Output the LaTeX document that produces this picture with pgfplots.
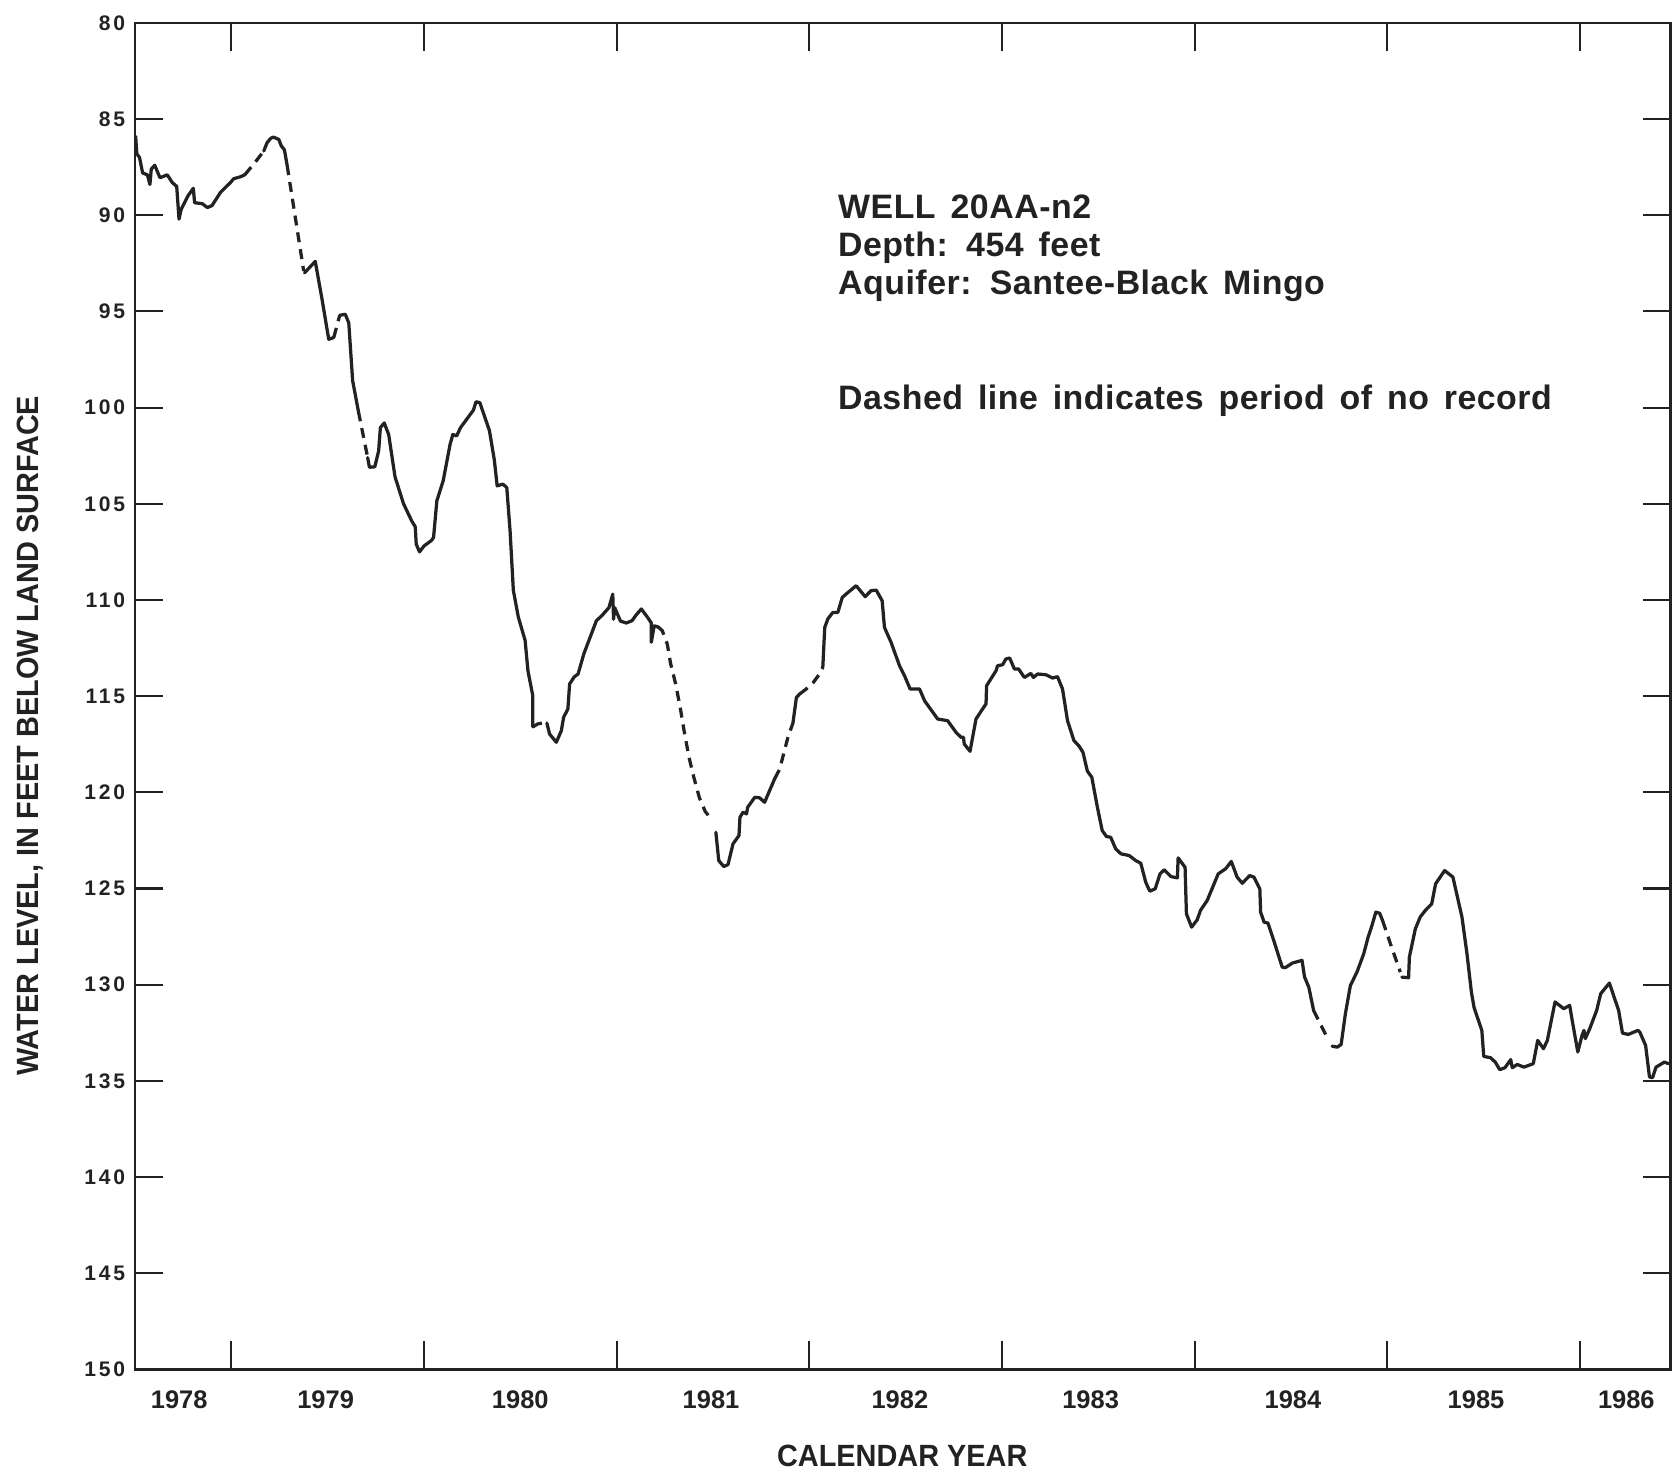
\documentclass[border=0pt]{standalone}
\usepackage{pgfplots}
\pgfplotsset{compat=1.18}
\usepackage{fontspec}
\setmainfont[FakeStretch=0.94]{Liberation Sans}
\newfontfamily\annfont[LetterSpace=1.5, WordSpace=1.5]{Liberation Sans}
\newfontfamily\ytfont[LetterSpace=13]{Liberation Sans}
\newfontfamily\xtfont{Liberation Sans}
\definecolor{ink}{HTML}{222222}
\begin{document}
\begin{tikzpicture}
\path[use as bounding box] (-27mm,-20.76mm) rectangle (307.67mm,274.08mm);
\begin{axis}[
  at={(0,0)}, anchor=south west,
  scale only axis, width=307.4mm, height=269.5mm,
  xmin=1978.5, xmax=1986.47, ymin=80, ymax=150, y dir=reverse,
  xtick={1979,1980,1981,1982,1983,1984,1985,1986}, xticklabels={},
  extra x ticks={1978.73,1979.49,1980.5,1981.49,1982.47,1983.46,1984.51,1985.46,1986.24},
  extra x tick labels={1978,1979,1980,1981,1982,1983,1984,1985,1986},
  extra x tick style={major tick length=0pt},
  ytick={80,85,90,95,100,105,110,115,120,125,130,135,140,145,150},
  yticklabels={80,85,90,95,100,105,110,115,120,125,130,135,140,145,150},
  tick align=inside, major tick length=5.6mm, minor tick num=0,
  axis line style={line width=0.54mm, draw=ink},
  every tick/.style={line width=0.42mm, draw=ink},
  xticklabel style={font=\xtfont\bfseries\fontsize{14.5pt}{16pt}\selectfont, text=ink, anchor=north, inner sep=0pt, yshift=-4.2mm},
  yticklabel style={font=\ytfont\bfseries\fontsize{12pt}{14pt}\selectfont, text=ink, anchor=east, inner sep=0pt, xshift=-1.9mm},
  clip=true,
]
\pgfplotsset{solidline/.style={ink, line width=0.65mm, line join=round, line cap=round},
             dashline/.style={ink, line width=0.65mm, dash pattern=on 2mm off 1.4mm}}
\addplot[solidline] coordinates {(1978.504,85.9) (1978.51,86.8) (1978.524,87.0) (1978.54,87.8) (1978.565,87.9) (1978.578,88.4) (1978.585,87.6) (1978.603,87.4) (1978.63,88.05) (1978.668,87.9) (1978.694,88.3) (1978.717,88.5) (1978.729,90.2) (1978.74,89.7) (1978.775,89.0) (1978.803,88.6) (1978.81,89.35) (1978.85,89.4) (1978.876,89.6) (1978.90,89.5) (1978.945,88.8) (1978.996,88.3) (1979.013,88.1) (1979.048,88.0) (1979.07,87.9)};
\addplot[dashline] coordinates {(1979.07,87.9) (1979.12,87.3) (1979.169,86.66)};
\addplot[solidline] coordinates {(1979.169,86.66) (1979.186,86.23) (1979.205,86.0) (1979.22,85.94) (1979.247,86.06) (1979.26,86.4) (1979.276,86.6) (1979.29,87.4)};
\addplot[dashline] coordinates {(1979.29,87.4) (1979.376,92.9)};
\addplot[solidline] coordinates {(1979.38,93.0) (1979.436,92.4) (1979.47,94.3) (1979.506,96.45) (1979.532,96.36)};
\addplot[dashline] coordinates {(1979.532,96.36) (1979.563,95.2)};
\addplot[solidline] coordinates {(1979.563,95.2) (1979.592,95.15) (1979.61,95.6) (1979.63,98.6) (1979.66,100.2)};
\addplot[dashline] coordinates {(1979.66,100.2) (1979.708,102.6)};
\addplot[solidline] coordinates {(1979.708,102.6) (1979.717,103.1) (1979.745,103.08) (1979.765,102.25) (1979.774,101.04) (1979.794,100.8) (1979.817,101.4) (1979.85,103.6) (1979.894,105.0) (1979.937,105.9) (1979.955,106.2) (1979.96,107.1) (1979.977,107.5) (1980.0,107.2) (1980.04,106.9) (1980.05,106.75) (1980.067,104.85) (1980.1,103.8) (1980.136,101.9) (1980.15,101.4) (1980.17,101.47) (1980.19,101.04) (1980.257,100.13) (1980.27,99.7) (1980.29,99.74) (1980.34,101.2) (1980.365,102.7) (1980.38,104.07) (1980.41,103.98) (1980.43,104.16) (1980.447,106.4) (1980.464,109.5) (1980.49,110.9) (1980.525,112.1) (1980.54,113.7) (1980.565,114.98) (1980.565,116.6)};
\addplot[dashline] coordinates {(1980.565,116.6) (1980.59,116.45) (1980.614,116.4) (1980.638,116.4)};
\addplot[solidline] coordinates {(1980.638,116.4) (1980.652,116.97) (1980.687,117.4) (1980.713,116.8) (1980.725,116.1) (1980.747,115.67) (1980.756,114.37) (1980.78,114.0) (1980.80,113.85) (1980.83,112.8) (1980.895,111.08) (1980.925,110.8) (1980.96,110.4) (1980.98,109.7) (1980.984,111.0) (1980.99,110.4) (1981.02,111.1) (1981.05,111.2) (1981.08,111.08) (1981.10,110.8) (1981.128,110.47) (1981.16,110.9) (1981.18,111.2) (1981.18,112.2) (1981.195,111.35) (1981.215,111.4)};
\addplot[dashline] coordinates {(1981.215,111.4) (1981.237,111.6) (1981.263,112.3) (1981.28,113.3) (1981.307,114.4) (1981.33,115.6) (1981.35,116.8) (1981.376,118.2) (1981.40,119.2) (1981.43,120.3) (1981.46,121.0) (1981.49,121.38)};
\addplot[solidline] coordinates {(1981.515,122.08) (1981.53,123.55) (1981.556,123.86) (1981.578,123.76) (1981.604,122.68) (1981.635,122.25) (1981.64,121.3) (1981.656,121.04) (1981.674,121.12) (1981.68,120.78) (1981.717,120.26) (1981.742,120.29) (1981.768,120.52) (1981.794,119.91) (1981.82,119.3)};
\addplot[dashline] coordinates {(1981.82,119.3) (1981.846,118.8) (1981.889,117.14) (1981.915,116.4)};
\addplot[solidline] coordinates {(1981.915,116.4) (1981.933,115.07) (1981.95,114.89)};
\addplot[dashline] coordinates {(1981.95,114.89) (1981.984,114.63) (1982.02,114.3) (1982.053,113.85) (1982.07,113.5)};
\addplot[solidline] coordinates {(1982.07,113.5) (1982.08,111.43) (1982.096,110.99) (1982.122,110.65) (1982.148,110.65) (1982.171,109.87) (1982.19,109.7) (1982.243,109.26) (1982.29,109.83) (1982.32,109.52) (1982.347,109.49) (1982.378,110.04) (1982.39,111.43) (1982.424,112.2) (1982.468,113.42) (1982.494,113.94) (1982.523,114.63) (1982.572,114.63) (1982.598,115.24) (1982.666,116.19) (1982.718,116.28) (1982.761,116.88) (1982.787,117.14) (1982.8,117.14) (1982.804,117.49) (1982.834,117.87) (1982.865,116.19) (1982.917,115.4) (1982.92,114.46) (1982.969,113.68) (1982.977,113.42) (1983.003,113.37) (1983.02,113.07) (1983.04,113.02) (1983.064,113.59) (1983.086,113.59) (1983.116,114.03) (1983.15,113.82) (1983.163,114.03) (1983.185,113.85) (1983.228,113.89) (1983.262,114.06) (1983.288,113.99) (1983.314,114.63) (1983.34,116.28) (1983.373,117.31) (1983.40,117.6) (1983.42,117.92) (1983.443,118.9) (1983.466,119.22) (1983.495,120.78) (1983.52,121.99) (1983.542,122.3) (1983.564,122.34) (1983.59,122.94) (1983.617,123.2) (1983.66,123.29) (1983.694,123.55) (1983.72,123.69) (1983.746,124.68) (1983.767,125.14) (1983.795,125.02) (1983.82,124.24) (1983.842,124.03) (1983.876,124.38) (1983.91,124.45) (1983.914,123.41) (1983.95,123.9) (1983.957,126.32) (1983.984,127.01) (1984.013,126.63) (1984.03,126.14) (1984.065,125.62) (1984.122,124.24) (1984.16,123.98) (1984.19,123.6) (1984.22,124.41) (1984.247,124.73) (1984.285,124.33) (1984.307,124.41) (1984.338,125.02) (1984.342,126.23) (1984.36,126.75) (1984.38,126.8) (1984.41,127.7) (1984.454,129.09) (1984.47,129.12) (1984.506,128.88) (1984.557,128.74) (1984.57,129.6) (1984.592,130.13) (1984.617,131.34)};
\addplot[dashline] coordinates {(1984.617,131.34) (1984.65,132.0) (1984.69,132.8)};
\addplot[solidline] coordinates {(1984.713,133.2) (1984.74,133.25) (1984.76,133.11) (1984.782,131.51) (1984.808,130.04) (1984.842,129.35) (1984.877,128.4) (1984.9,127.53) (1984.92,126.92) (1984.94,126.23) (1984.96,126.29) (1984.975,126.67)};
\addplot[dashline] coordinates {(1984.975,126.67) (1985.02,128.0) (1985.067,129.35)};
\addplot[solidline] coordinates {(1985.075,129.61) (1985.11,129.64) (1985.114,128.57) (1985.145,127.1) (1985.17,126.49) (1985.197,126.14) (1985.23,125.8) (1985.25,124.76) (1985.297,124.07) (1985.34,124.41) (1985.387,126.49) (1985.413,128.4) (1985.436,130.4) (1985.45,131.2) (1985.49,132.38) (1985.50,133.73) (1985.535,133.8) (1985.56,134.03) (1985.583,134.42) (1985.61,134.32) (1985.64,133.9) (1985.648,134.32) (1985.674,134.15) (1985.708,134.29) (1985.757,134.11) (1985.78,132.9) (1985.81,133.33) (1985.83,132.9) (1985.87,130.9) (1985.915,131.25) (1985.946,131.08) (1985.959,131.86) (1985.988,133.5) (1986.01,132.64) (1986.02,132.38) (1986.027,132.81) (1986.05,132.29) (1986.086,131.34) (1986.107,130.47) (1986.152,129.92) (1986.2,131.34) (1986.22,132.52) (1986.25,132.59) (1986.30,132.38) (1986.31,132.47) (1986.34,133.16) (1986.36,134.8) (1986.376,134.84) (1986.394,134.29) (1986.437,134.03) (1986.46,134.11)};
\node[anchor=base west, inner sep=0pt, text=ink, font=\annfont\bfseries\fontsize{19.3pt}{22pt}\selectfont] at (axis cs:1982.148,90.16) {WELL 20AA-n2};
\node[anchor=base west, inner sep=0pt, text=ink, font=\annfont\bfseries\fontsize{19.3pt}{22pt}\selectfont] at (axis cs:1982.148,92.12) {Depth: 454 feet};
\node[anchor=base west, inner sep=0pt, text=ink, font=\annfont\bfseries\fontsize{19.3pt}{22pt}\selectfont] at (axis cs:1982.148,94.13) {Aquifer: Santee-Black Mingo};
\node[anchor=base west, inner sep=0pt, text=ink, font=\annfont\bfseries\fontsize{19.3pt}{22pt}\selectfont] at (axis cs:1982.148,100.12) {Dashed line indicates period of no record};
\end{axis}
\node[rotate=90, inner sep=0pt, text=ink, font=\bfseries\fontsize{17.5pt}{20pt}\selectfont] at (-21mm,126.8mm) {WATER LEVEL, IN FEET BELOW LAND SURFACE};
\node[inner sep=0pt, text=ink, font=\bfseries\fontsize{17.5pt}{20pt}\selectfont] at (153.6mm,-17.36mm) {CALENDAR YEAR};
\end{tikzpicture}
\end{document}
